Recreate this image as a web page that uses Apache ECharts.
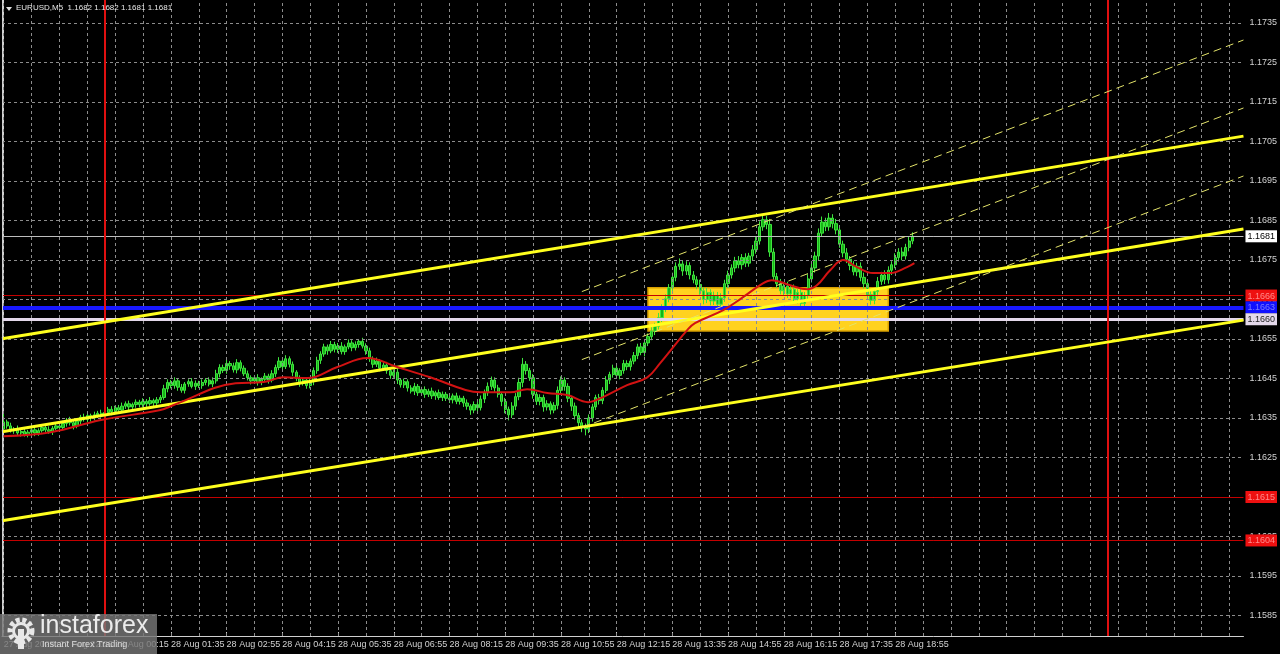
<!DOCTYPE html>
<html><head><meta charset="utf-8">
<script src="https://cdn.jsdelivr.net/npm/echarts@6/dist/echarts.min.js"></script>
<style>html,body{margin:0;padding:0;background:#000;overflow:hidden}#c{width:1280px;height:654px}</style>
</head><body><div id="c"></div>
<script>
// ---- DATA (prices stored as points: price = BASE + pts / 100000) ----
const BASE = 1.16;
const firstOpen = 322;
const closePts = [
340,330,318,322,312,316,308,314,320,312,
318,326,320,316,324,330,326,336,344,338,
330,342,352,346,356,350,358,362,356,364,
372,366,376,370,380,386,378,384,390,384,
392,386,394,388,396,402,424,440,432,444,
428,420,436,442,430,438,432,440,446,436,
444,462,478,470,488,482,472,490,476,462,
452,444,452,440,448,456,446,462,478,494,
480,500,486,466,450,438,446,432,442,470,
496,512,530,520,536,524,532,518,530,540,
528,536,544,532,520,500,486,494,476,484,
470,458,466,446,434,442,426,418,430,414,
422,410,418,406,414,402,410,400,396,406,
392,400,388,380,370,384,376,398,414,430,
446,426,410,392,372,358,380,404,440,486,
470,452,410,392,402,378,386,370,382,420,
446,430,400,380,356,338,326,322,350,378,
402,394,420,446,460,476,458,470,488,480,
494,508,530,516,540,556,570,582,604,628,
652,680,706,734,740,722,736,712,700,688,
672,650,668,646,660,638,654,690,712,730,
748,738,756,742,760,776,798,834,852,840,
770,708,690,672,684,664,676,652,668,640,
660,702,730,760,818,846,834,856,842,826,
790,768,752,736,720,734,706,690,662,648,
670,696,712,700,724,738,756,770,760,782,
798,810];
const upperWick = [
22,6,8,5,9,4,7,6,5,8, 6,7,5,9,6,8,5,7,6,9, 5,8,6,9,7,5,8,6,9,7, 6,8,5,7,9,6,8,5,7,6,
8,6,9,5,7,6,10,8,6,9, 7,8,5,6,9,7,6,8,5,7, 9,10,8,7,9,6,8,9,6,7, 8,6,7,9,5,8,6,9,7,10,
8,9,6,7,5,8,6,7,9,8, 9,7,8,6,9,7,8,10,6,9, 7,8,6,9,7,8,6,9,5,7, 8,6,7,9,5,8,6,7,9,6,
7,8,6,9,5,8,7,6,9,6, 8,7,6,9,5,8,7,9,8,10, 9,7,8,6,9,7,10,9,12,16, 8,7,9,6,8,7,9,6,8,10,
9,7,8,6,9,7,8,10,9,8, 7,9,8,10,7,9,8,6,9,8, 7,9,8,10,9,8,10,9,12,10, 11,9,12,10,14,9,11,8,10,9,
12,9,11,8,10,9,12,10,11,9, 10,12,9,11,8,12,10,14,12,10, 14,10,9,12,8,11,9,12,8,10, 9,12,10,11,12,14,11,13,10,12,
10,9,12,8,11,9,10,12,8,10, 9,11,8,12,10,9,11,10,12,9, 11,10];
const lowerWick = [
6,7,5,8,6,9,5,7,6,8, 7,5,8,6,9,5,7,6,8,7, 9,6,8,5,7,9,6,8,5,7, 6,9,7,8,5,7,9,6,8,7,
6,8,5,9,7,8,6,9,7,8, 9,6,8,7,5,9,6,8,7,6, 8,7,9,6,8,10,7,9,8,6, 7,9,6,8,7,5,9,6,8,7,
9,6,8,10,7,9,6,8,7,9, 8,9,7,10,6,8,9,7,8,6, 9,7,8,6,10,8,9,7,8,6, 8,9,6,10,7,8,9,6,10,8,
6,9,7,8,10,6,9,7,8,9, 7,8,10,9,12,8,9,7,10,8, 9,10,8,12,10,14,8,10,9,12, 10,8,11,9,10,12,9,11,8,10,
9,11,10,12,10,11,12,16,10,9, 8,10,9,7,10,8,9,10,8,9, 10,8,9,7,10,8,9,10,8,11, 10,9,11,10,9,12,10,11,9,12,
10,12,9,11,10,12,9,10,11,9, 11,9,12,10,9,11,10,9,10,12, 12,10,11,9,12,10,11,9,12,10, 11,10,9,12,10,9,11,10,12,11,
9,11,10,12,9,11,10,12,9,11, 10,12,9,11,10,12,9,10,11,9, 10,8];
// red moving line: [bar index, pts]
const maPts = [[0,304],[13.5,314],[27.9,345],[45,370],[48.8,383],[66.6,438],[74.6,441],[80.4,453],[87.2,451],
[95.8,479],[104.4,502],[113,479],[122.5,453],[132.6,421],[136.9,415],[145.5,415],[150.3,423],[156.1,413],
[161.8,408],[167.8,390],[172.1,403],[179,433],[184.8,453],[188.5,489],[192.2,529],[196.2,572],[198.5,590],
[206.6,623],[212.3,656],[218,691],[220.6,699],[225.8,686],[230.7,676],[233.5,686],[237.3,724],[241,750],
[245,732],[249.6,717],[254.5,717],[259.4,732],[261.5,742]];
// solid trend channel lines: [[bar, price],[bar, price]]
const trendLines = [
  [[-0.5,1.165504],[356,1.170636]],
  [[-0.5,1.163150],[356,1.168282]],
  [[-0.5,1.160896],[356,1.165978]]
];
// dashed regression channel
const channelLines = [
  [[166,1.166700],[356,1.173069]],
  [[166,1.164978],[356,1.171348]],
  [[166,1.163257],[356,1.169626]]
];
const levelValues = [1.1681, 1.1666, 1.1663, 1.1660, 1.1615, 1.1604];
const levelKinds  = ['w', 'r', 'b', 'p', 'r', 'r'];
const daySeparators = [29, 317];
const boxBars = [185, 254];
const boxPrices = [1.1657, 1.1668];
const yTicks = [1.1585,1.1595,1.1605,1.1615,1.1625,1.1635,1.1645,1.1655,1.1665,1.1675,1.1685,1.1695,1.1705,1.1715,1.1725,1.1735];
const xLabelIndex = [0,16,32,48,64,80,96,112,128,144,160,176,192,208,224,240,256];
const xLabels = ["27 Aug 2025","27 Aug 22:55","28 Aug 00:15","28 Aug 01:35","28 Aug 02:55","28 Aug 04:15","28 Aug 05:35",
"28 Aug 06:55","28 Aug 08:15","28 Aug 09:35","28 Aug 10:55","28 Aug 12:15","28 Aug 13:35","28 Aug 14:55","28 Aug 16:15",
"28 Aug 17:35","28 Aug 18:55"];

// ---- build ----
const P = v => +(BASE + v / 100000).toFixed(5);
const candles = closePts.map((c, i) => {
  const o = i === 0 ? firstOpen : closePts[i - 1];
  const h = Math.max(o, c) + upperWick[i];
  const l = Math.min(o, c) - lowerWick[i];
  return [i, P(o), P(c), P(l), P(h)];
});
const xGrid = [];
for (let v = 0; v <= 352; v += 8) xGrid.push(v);

const YMIN = 1.157981, YMAX = 1.174082;
const FONT = 'Liberation Sans';
const levelStyle = {
  w: {color: '#bdbdbd', width: 1},
  r: {color: '#c40000', width: 1},
  b: {color: '#1818ff', width: 4},
  p: {color: '#e4d8ea', width: 3}
};
const chart = echarts.init(document.getElementById('c'));
const series = [
  {type: 'line', data: [], z: 1, silent: true,
   markLine: {silent: true, precision: 6, symbol: ['none', 'none'], label: {show: false}, animation: false,
     lineStyle: {color: '#8c8c8c', type: [3, 3], width: 1},
     data: [...xGrid.map(v => ({xAxis: v})), ...yTicks.map(v => ({yAxis: v}))]}},
  {type: 'line', data: [], z: 2, silent: true,
   markArea: {silent: true, precision: 6, animation: false,
     itemStyle: {color: '#ffd21f', borderColor: '#d9a000', borderWidth: 1.5},
     data: [[{xAxis: boxBars[0], yAxis: boxPrices[1]}, {xAxis: boxBars[1], yAxis: boxPrices[0]}]]}},
  {type: 'candlestick', data: candles, z: 3, encode: {x: 0, y: [1, 2, 3, 4]}, barWidth: 2.8,
   itemStyle: {color: '#16b416', color0: '#16b416', borderColor: '#3ee43e', borderColor0: '#3ee43e', borderWidth: 1}},
  {type: 'line', data: [], z: 4, silent: true,
   markLine: {silent: true, precision: 6, symbol: ['none', 'none'], label: {show: false}, animation: false,
     data: levelValues.map((v, k) => ({yAxis: v, lineStyle: Object.assign({type: 'solid'}, levelStyle[levelKinds[k]])}))}},
  ...trendLines.map(d => ({type: 'line', data: d, z: 5, symbol: 'none', silent: true,
     lineStyle: {color: '#ffff1e', width: 3}})),
  ...channelLines.map(d => ({type: 'line', data: d, z: 5, symbol: 'none', silent: true,
     lineStyle: {color: '#e4e46a', width: 1, type: [8, 5]}})),
  {type: 'line', data: maPts.map(p => [p[0], P(p[1])]), z: 6, symbol: 'none', smooth: 0.4, silent: true,
   lineStyle: {color: '#d21212', width: 2}},
  {type: 'line', data: [], z: 7, silent: true,
   markLine: {silent: true, precision: 6, symbol: ['none', 'none'], label: {show: false}, animation: false,
     lineStyle: {color: '#e01010', width: 2, type: 'solid'},
     data: daySeparators.map(v => ({xAxis: v}))}}
];
const labelRich = {
  w: {backgroundColor: '#ffffff', color: '#000000', padding: [2, 2, 1, 2], fontSize: 9, fontFamily: FONT},
  r: {backgroundColor: '#ee1010', color: '#ff8c8c', padding: [2, 2, 1, 2], fontSize: 9, fontFamily: FONT},
  b: {backgroundColor: '#1010ff', color: '#7a7aff', padding: [2, 2, 1, 2], fontSize: 9, fontFamily: FONT},
  p: {backgroundColor: '#e4d8ea', color: '#222222', padding: [2, 2, 1, 2], fontSize: 9, fontFamily: FONT}
};
chart.setOption({
  backgroundColor: '#000000',
  animation: false,
  grid: {left: 2, right: 36, top: 0, bottom: 18},
  xAxis: {type: 'value', min: -0.5, max: 356,
    axisLine: {show: true, lineStyle: {color: '#cfcfcf', width: 1}},
    axisTick: {show: true, customValues: xLabelIndex, inside: true, length: 4, lineStyle: {color: '#cfcfcf'}},
    axisLabel: {customValues: xLabelIndex, color: '#d2d2d2', fontSize: 9, fontFamily: FONT, align: 'left', margin: 4,
      formatter: v => { const k = xLabelIndex.indexOf(Math.round(v)); return k >= 0 ? xLabels[k] : ''; }},
    splitLine: {show: false}},
  yAxis: [
    {type: 'value', position: 'right', min: YMIN, max: YMAX, scale: true,
     axisLine: {show: true, lineStyle: {color: '#cfcfcf', width: 1}},
     axisTick: {show: false},
     axisLabel: {customValues: yTicks, color: '#d2d2d2', fontSize: 9, fontFamily: FONT, margin: 6,
       formatter: v => v.toFixed(4)},
     splitLine: {show: false}},
    {type: 'value', position: 'right', min: YMIN, max: YMAX, scale: true,
     axisLine: {show: false}, axisTick: {show: false}, splitLine: {show: false},
     axisLabel: {customValues: levelValues, margin: 2, rich: labelRich,
       formatter: v => { let k = levelValues.findIndex(x => Math.abs(x - v) < 1e-7); if (k < 0) return '';
         return '{' + levelKinds[k] + '|' + levelValues[k].toFixed(4) + '}'; }}}
  ],
  series: series,
  graphic: [
    {type: 'line', shape: {x1: 2.5, y1: 0, x2: 2.5, y2: 636}, style: {stroke: '#cfcfcf', lineWidth: 1}, z: 100},
    {type: 'polygon', shape: {points: [[6, 7], [12, 7], [9, 11]]}, style: {fill: '#e0e0e0'}, z: 100},
    {type: 'text', left: 16, top: 4, style: {text: 'EURUSD,M5  1.1682 1.1682 1.1681 1.1681', fill: '#e6e6e6', font: '8px ' + FONT}, z: 100},
    {type: 'rect', shape: {x: 0, y: 614, width: 157, height: 40}, style: {fill: 'rgba(118,118,118,0.82)'}, z: 100},
    {type: 'circle', shape: {cx: 21, cy: 631, r: 11}, style: {fill: 'none', stroke: '#e8e8e8', lineWidth: 5, lineDash: [4, 2.6]}, z: 101},
    {type: 'circle', shape: {cx: 21, cy: 631, r: 7.5}, style: {fill: 'none', stroke: '#e8e8e8', lineWidth: 3}, z: 101},
    {type: 'rect', shape: {x: 18, y: 629, width: 6, height: 20}, style: {fill: '#e8e8e8'}, z: 101},
    {type: 'text', left: 40, top: 614, style: {text: 'instaforex', fill: '#ececec', font: '25px ' + FONT}, z: 101},
    {type: 'text', left: 42, top: 640, style: {text: 'Instant Forex Trading', fill: '#dedede', font: '9px ' + FONT}, z: 101}
  ]
});
</script></body></html>
